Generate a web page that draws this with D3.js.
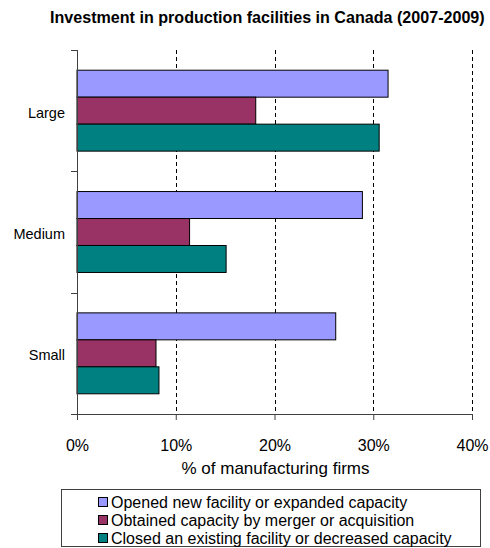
<!DOCTYPE html>
<html>
<head>
<meta charset="utf-8">
<script src="https://cdn.jsdelivr.net/npm/d3@7"></script>
<style>
  html, body { margin: 0; padding: 0; background: #fff; }
  svg { display: block; font-family: Arial, "Liberation Sans", sans-serif; }
</style>
</head>
<body>
<svg id="chart" width="490" height="548"></svg>
<script>
// Firm size categories (top to bottom)
const categories = ["Large", "Medium", "Small"];
// Series names and colours
const seriesNames = [
  "Opened new facility or expanded capacity",
  "Obtained capacity by merger or acquisition",
  "Closed an existing facility or decreased capacity"
];
const seriesColors = ["#9999FF", "#993366", "#008080"];
// Share of manufacturing firms (%), one array per series, in category order
const openedValues = [31.5, 28.9, 26.2];
const obtainedValues = [18.1, 11.4, 8.0];
const closedValues = [30.6, 15.1, 8.3];
// X axis ticks
const xTicks = [0, 10, 20, 30, 40];

const seriesValues = [openedValues, obtainedValues, closedValues];

const svg = d3.select("#chart");
const margin = { left: 77, right: 18, top: 50, bottom: 134 };
const W = 490, H = 548;
const plotW = W - margin.left - margin.right;
const plotH = H - margin.top - margin.bottom;

const x = d3.scaleLinear().domain([0, 40]).range([margin.left, margin.left + plotW]);
const y0 = d3.scaleBand().domain(categories).range([margin.top, margin.top + plotH])
  .paddingInner(0.333).paddingOuter(0.1665);
const y1 = d3.scaleBand().domain(d3.range(seriesNames.length)).range([0, y0.bandwidth()]);

// Title
svg.append("text")
  .attr("x", 50).attr("y", 23)
  .attr("font-size", 16.1).attr("font-weight", "bold").attr("fill", "#000")
  .text("Investment in production facilities in Canada (2007-2009)");

// Dashed gridlines
svg.append("g").selectAll("line")
  .data(xTicks.filter(t => t > 0))
  .join("line")
  .attr("x1", d => Math.round(x(d)) + 0.5).attr("x2", d => Math.round(x(d)) + 0.5)
  .attr("y1", margin.top).attr("y2", margin.top + plotH)
  .attr("stroke", "#000").attr("stroke-width", 1).attr("stroke-dasharray", "4,3");

// Bars
const groups = svg.append("g").selectAll("g")
  .data(categories)
  .join("g")
  .attr("transform", d => `translate(0,${y0(d)})`);

groups.selectAll("rect")
  .data((c, ci) => seriesValues.map((vals, si) => ({ si, v: vals[ci] })))
  .join("rect")
  .attr("x", x(0))
  .attr("y", d => y1(d.si))
  .attr("width", d => x(d.v) - x(0))
  .attr("height", y1.bandwidth())
  .attr("fill", d => seriesColors[d.si])
  .attr("stroke", "#000").attr("stroke-width", 1);

// X axis
const xAxis = d3.axisBottom(x).tickValues(xTicks).tickFormat(d => d + "%").tickSize(6);
const gx = svg.append("g")
  .attr("transform", `translate(0,${margin.top + plotH})`)
  .call(xAxis);
gx.select(".domain").attr("stroke", "#404040");
gx.selectAll(".tick line").attr("stroke", "#404040");
gx.selectAll(".tick text")
  .attr("y", 37).attr("dy", 0)
  .attr("font-size", 16).attr("fill", "#000")
  .attr("font-family", "Arial, 'Liberation Sans', sans-serif");

// Y axis: line plus ticks between categories
const gy = svg.append("g");
gy.append("line")
  .attr("x1", margin.left + 0.5).attr("x2", margin.left + 0.5)
  .attr("y1", margin.top).attr("y2", margin.top + plotH + 6)
  .attr("stroke", "#404040");
const sepYs = d3.range(categories.length + 1).map(i => margin.top + i * plotH / categories.length);
gy.selectAll("line.sep")
  .data(sepYs)
  .join("line").attr("class", "sep")
  .attr("x1", margin.left - 6).attr("x2", margin.left)
  .attr("y1", d => Math.round(d) + 0.5).attr("y2", d => Math.round(d) + 0.5)
  .attr("stroke", "#404040");
gy.selectAll("text")
  .data(categories)
  .join("text")
  .attr("x", margin.left - 12)
  .attr("y", d => y0(d) + y0.bandwidth() / 2 + 2)
  .attr("dy", "0.35em")
  .attr("text-anchor", "end")
  .attr("font-size", 14.5).attr("fill", "#000")
  .text(d => d);

// X axis title
svg.append("text")
  .attr("x", margin.left + plotW / 2 + 1).attr("y", 474)
  .attr("text-anchor", "middle").attr("font-size", 17).attr("fill", "#000")
  .text("% of manufacturing firms");

// Legend
const legend = svg.append("g");
legend.append("rect")
  .attr("x", 61.5).attr("y", 489.5).attr("width", 419).attr("height", 57)
  .attr("fill", "#fff").attr("stroke", "#404040").attr("stroke-width", 1);
const items = legend.selectAll("g.item")
  .data(seriesNames)
  .join("g").attr("class", "item")
  .attr("transform", (d, i) => `translate(0,${502 + i * 18})`);
items.append("rect")
  .attr("x", 98.5).attr("y", -4.5).attr("width", 9).attr("height", 9)
  .attr("fill", (d, i) => seriesColors[i]).attr("stroke", "#000");
items.append("text")
  .attr("x", 111).attr("y", 0).attr("dy", "0.35em")
  .attr("font-size", 16).attr("fill", "#000")
  .text(d => d);
</script>
</body>
</html>
